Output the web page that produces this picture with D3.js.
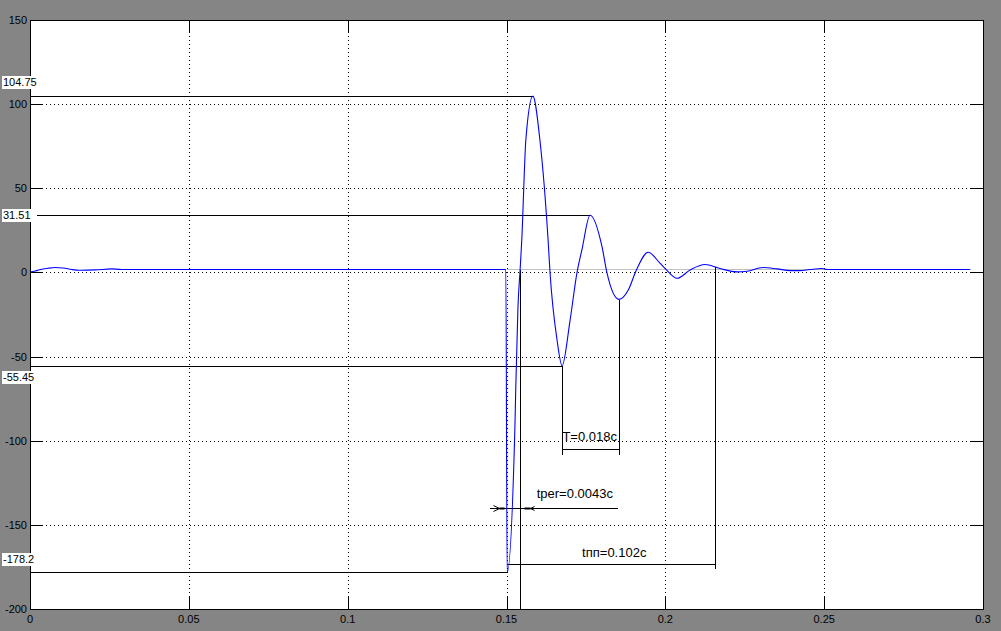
<!DOCTYPE html>
<html><head><meta charset="utf-8">
<script src="https://cdn.jsdelivr.net/npm/d3@7"></script>
<style>
html,body{margin:0;padding:0;background:#858585;}
svg{display:block;}
text{font-family:"Liberation Sans",Arial,sans-serif;}
</style></head>
<body>
<script>
// ---- data ----
const xTicks = [0, 0.05, 0.1, 0.15, 0.2, 0.25, 0.3];
const xTickLabels = ["0", "0.05", "0.1", "0.15", "0.2", "0.25", "0.3"];
const yTicks = [-200, -150, -100, -50, 0, 50, 100, 150];
const yTickLabels = ["-200", "-150", "-100", "-50", "0", "50", "100", "150"];

const time = [0, 0.0016, 0.003, 0.0057, 0.0079, 0.0104, 0.0132, 0.0157, 0.0205, 0.0258, 0.0283, 0.035,
  0.1498, 0.1502, 0.1527, 0.1529, 0.1536, 0.1543, 0.1548, 0.1561, 0.1583, 0.1605, 0.1631, 0.1637,
  0.1659, 0.1675, 0.1700, 0.1722, 0.1738, 0.1763, 0.1801, 0.1816, 0.1854, 0.1883, 0.1908, 0.1946,
  0.1983, 0.2002, 0.2037, 0.2078, 0.2125, 0.2172, 0.2226, 0.2257, 0.2308, 0.2352, 0.2393, 0.2424,
  0.2455, 0.2493, 0.2509, 0.2959];
const signal = [0.2, 0.8, 1.6, 2.5, 2.9, 2.6, 1.7, 1.3, 1.5, 2.1, 1.8, 1.7,
  1.7, -178.2, -88, -70, -21, 2, 19, 79, 104.75, 79, 19, 0,
  -40, -55.45, -28.6, 0, 14, 34, 15, 0, -16, -10.6, 1, 12,
  5.5, 1.8, -3.5, 1.5, 4.7, 2.3, 0.3, 0.7, 2.9, 2.1, 1.1, 1.1,
  1.7, 2.3, 1.7, 1.7];

// reference levels drawn from the left axis to the extremes
const levelValues = [104.75, 34, -55.45, -178.2];
const levelEnds = [0.1583, 0.1763, 0.1675, 0.1502];
const levelLabels = ["104.75", "31.51", "-55.45", "-178.2"];

const baselineValue = 1.8;
const baselineSpan = [0.1498, 0.2959];

// period bracket
const periodTimes = [0.1675, 0.1854];
const periodFrom = [-55.45, -16];
const periodLevel = -105.2;
const periodBottom = -108;
const periodLabel = "T=0.018с";
const periodLabelPos = [0.1676, -100.3];

// rise time
const riseMarker = 0.1543;
const riseMarkerFrom = 1.8;
const riseStart = 0.1498;
const riseLevel = -139.7;
const riseSpan = [0.1444, 0.1848];
const riseLabel = "tper=0.0043с";
const riseLabelPos = [0.1595, -134.2];

// settling time
const settleLevel = -173;
const settleSpan = [0.1502, 0.2156];
const settleVert = [4, -175.4];
const settleLabel = "tпп=0.102с";
const settleLabelPos = [0.1738, -169.2];

// ---- chart ----
const W = 1001, H = 631;
const L = 30, R = 983, T = 20, B = 609;
const x = d3.scaleLinear().domain([0, 0.3]).range([L, R]);
const y = d3.scaleLinear().domain([-200, 150]).range([B, T]);
const px = v => Math.round(x(v)) + 0.5;
const py = v => Math.round(y(v)) + 0.5;

const svg = d3.select("body").append("svg").attr("width", W).attr("height", H);
svg.append("rect").attr("width", W).attr("height", H).attr("fill", "#858585");
svg.append("rect").attr("x", L + 0.5).attr("y", T + 0.5).attr("width", R - L).attr("height", B - T)
  .attr("fill", "#fff");

const g = svg.append("g").attr("shape-rendering", "crispEdges");

// grid
g.selectAll(".gx").data(xTicks.slice(1, -1)).join("line")
  .attr("x1", d => px(d)).attr("x2", d => px(d)).attr("y1", T).attr("y2", B)
  .attr("stroke", "#000").attr("stroke-dasharray", "1,3");
g.selectAll(".gy").data(yTicks.slice(1, -1)).join("line")
  .attr("y1", d => py(d)).attr("y2", d => py(d)).attr("x1", L).attr("x2", R)
  .attr("stroke", "#000").attr("stroke-dasharray", "1,3");

// ticks (inside, all sides)
const TL = 12;
xTicks.forEach(d => {
  g.append("line").attr("x1", px(d)).attr("x2", px(d)).attr("y1", B).attr("y2", B - TL).attr("stroke", "#000");
  g.append("line").attr("x1", px(d)).attr("x2", px(d)).attr("y1", T).attr("y2", T + TL).attr("stroke", "#000");
});
yTicks.forEach(d => {
  g.append("line").attr("y1", py(d)).attr("y2", py(d)).attr("x1", L).attr("x2", L + TL).attr("stroke", "#000");
  g.append("line").attr("y1", py(d)).attr("y2", py(d)).attr("x1", R).attr("x2", R - TL).attr("stroke", "#000");
});

// tick labels
svg.selectAll(".xl").data(xTicks).join("text")
  .attr("x", d => x(d)).attr("y", B + 14).attr("text-anchor", "middle")
  .attr("font-size", 11).attr("fill", "#000").text((d, i) => xTickLabels[i]);
svg.selectAll(".yl").data(yTicks).join("text")
  .attr("x", L - 3).attr("y", d => y(d) + 4).attr("text-anchor", "end")
  .attr("font-size", 11).attr("fill", "#000").text((d, i) => yTickLabels[i]);

// light baseline
g.append("line").attr("x1", px(baselineSpan[0])).attr("x2", px(baselineSpan[1]))
  .attr("y1", py(baselineValue)).attr("y2", py(baselineValue)).attr("stroke", "#c0c0c0");

// level lines
levelValues.forEach((v, i) => {
  g.append("line").attr("x1", L).attr("x2", px(levelEnds[i]))
    .attr("y1", py(v)).attr("y2", py(v)).attr("stroke", "#000");
});

// signal
const pts = time.map((t, i) => [t, signal[i]]);
svg.append("path").datum(pts)
  .attr("d", d3.line().x(d => x(d[0])).y(d => y(d[1])).curve(d3.curveMonotoneX))
  .attr("fill", "none").attr("stroke", "#0000ff").attr("stroke-width", 1.1);

// period bracket
periodTimes.forEach((t, i) => {
  g.append("line").attr("x1", px(t)).attr("x2", px(t)).attr("y1", py(periodFrom[i])).attr("y2", py(periodBottom)).attr("stroke", "#000");
});
g.append("line").attr("x1", px(periodTimes[0])).attr("x2", px(periodTimes[1]))
  .attr("y1", py(periodLevel)).attr("y2", py(periodLevel)).attr("stroke", "#000");

// rise time
g.append("line").attr("x1", px(riseMarker)).attr("x2", px(riseMarker))
  .attr("y1", py(riseMarkerFrom)).attr("y2", B).attr("stroke", "#000");
g.append("line").attr("x1", px(riseSpan[0])).attr("x2", px(riseSpan[1]))
  .attr("y1", py(riseLevel)).attr("y2", py(riseLevel)).attr("stroke", "#000");
// arrows
{
  const ya = py(riseLevel);
  const xa = px(riseStart), xb = px(riseMarker);
  svg.append("path").attr("d", `M${xa - 13},${ya - 3} L${xa - 7},${ya} L${xa - 13},${ya + 3}`).attr("fill", "none").attr("stroke", "#000");
  svg.append("rect").attr("x", xa - 7).attr("y", ya - 1).attr("width", 5).attr("height", 2).attr("fill", "#000");
  svg.append("rect").attr("x", xb + 4).attr("y", ya - 1).attr("width", 6).attr("height", 2).attr("fill", "#000");
  svg.append("path").attr("d", `M${xb + 14},${ya - 2} L${xb + 10},${ya} L${xb + 14},${ya + 2}`).attr("fill", "none").attr("stroke", "#000");
}

// settling time
g.append("line").attr("x1", px(settleSpan[0])).attr("x2", px(settleSpan[1]))
  .attr("y1", py(settleLevel)).attr("y2", py(settleLevel)).attr("stroke", "#000");
g.append("line").attr("x1", px(settleSpan[1])).attr("x2", px(settleSpan[1]))
  .attr("y1", py(settleVert[0])).attr("y2", py(settleVert[1])).attr("stroke", "#000");

// annotation texts
[[periodLabel, periodLabelPos], [riseLabel, riseLabelPos], [settleLabel, settleLabelPos]].forEach(([s, p]) => {
  svg.append("text").attr("x", x(p[0])).attr("y", y(p[1])).attr("font-size", 13).attr("fill", "#000").text(s);
});

// plot border
svg.append("rect").attr("x", L + 0.5).attr("y", T + 0.5).attr("width", R - L).attr("height", B - T)
  .attr("fill", "none").attr("stroke", "#000").attr("shape-rendering", "crispEdges");

// level labels on white boxes
const labelShift = [-14, 0, 11, -13];
levelValues.forEach((v, i) => {
  const cy = y(v) + labelShift[i];
  svg.append("rect").attr("x", 2).attr("y", Math.round(cy - 6)).attr("width", 35).attr("height", 13).attr("fill", "#fff");
  svg.append("text").attr("x", 3).attr("y", cy + 4).attr("font-size", 11).attr("fill", "#000").text(levelLabels[i]);
});
</script>
</body></html>
